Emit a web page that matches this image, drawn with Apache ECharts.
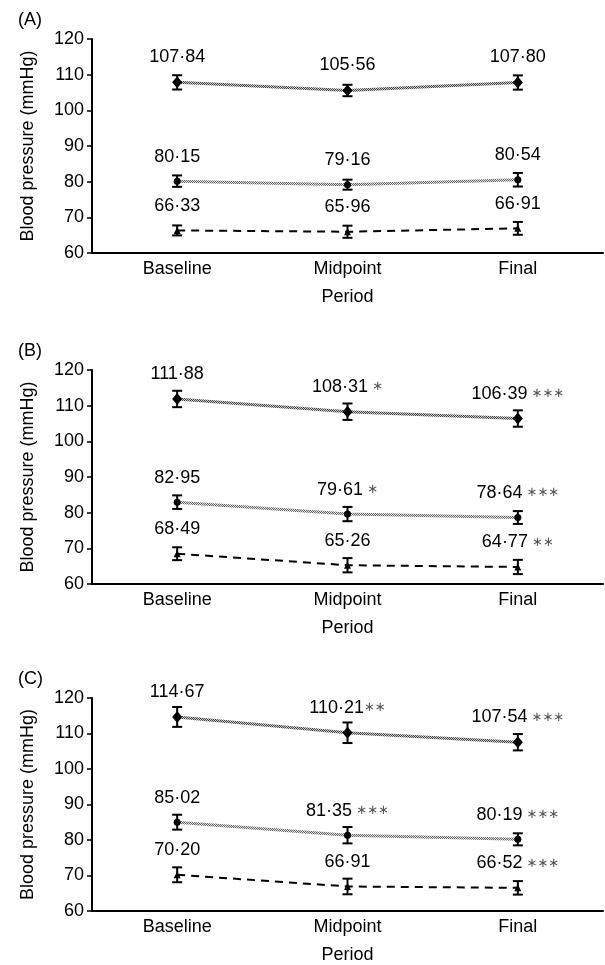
<!DOCTYPE html>
<html>
<head>
<meta charset="utf-8">
<script src="https://cdn.jsdelivr.net/npm/echarts@6/dist/echarts.min.js"></script>
<style>
  html, body { margin: 0; padding: 0; background: #fff; }
  #chart { width: 605px; height: 965px; }
</style>
</head>
<body>
<div id="chart"></div>
<script>
var periods = ['Baseline', 'Midpoint', 'Final'];
var yTicks = [60, 70, 80, 90, 100, 110, 120];
var panelNames = ['(A)', '(B)', '(C)'];

// (A)
var sysA = [107.84, 105.56, 107.80];
var sysErrA = [2.0, 1.6, 2.0];
var sysStarA = ['', '', ''];
var mapA = [80.15, 79.16, 80.54];
var mapErrA = [1.6, 1.4, 1.9];
var mapStarA = ['', '', ''];
var diaA = [66.33, 65.96, 66.91];
var diaErrA = [1.4, 1.7, 1.8];
var diaStarA = ['', '', ''];

// (B)
var sysB = [111.88, 108.31, 106.39];
var sysErrB = [2.3, 2.3, 2.3];
var sysStarB = ['', ' *', ' ***'];
var mapB = [82.95, 79.61, 78.64];
var mapErrB = [1.9, 2.0, 1.8];
var mapStarB = ['', ' *', ' ***'];
var diaB = [68.49, 65.26, 64.77];
var diaErrB = [1.8, 2.0, 2.0];
var diaStarB = ['', '', ' **'];

// (C)
var sysC = [114.67, 110.21, 107.54];
var sysErrC = [2.8, 2.9, 2.3];
var sysStarC = ['', '**', ' ***'];
var mapC = [85.02, 81.35, 80.19];
var mapErrC = [2.1, 2.3, 1.7];
var mapStarC = ['', ' ***', ' ***'];
var diaC = [70.20, 66.91, 66.52];
var diaErrC = [2.1, 2.2, 1.9];
var diaStarC = ['', '', ' ***'];

var panels = [
  {sys: sysA, sysErr: sysErrA, sysStar: sysStarA, map: mapA, mapErr: mapErrA, mapStar: mapStarA, dia: diaA, diaErr: diaErrA, diaStar: diaStarA},
  {sys: sysB, sysErr: sysErrB, sysStar: sysStarB, map: mapB, mapErr: mapErrB, mapStar: mapStarB, dia: diaB, diaErr: diaErrB, diaStar: diaStarB},
  {sys: sysC, sysErr: sysErrC, sysStar: sysStarC, map: mapC, mapErr: mapErrC, mapStar: mapStarC, dia: diaC, diaErr: diaErrC, diaStar: diaStarC}
];

var gridTops = [39, 370, 698];
var gridH = 214;
var FONT = 'Liberation Sans';

// halftone-like stroke patterns
function makePattern(a, b) {
  var c = document.createElement('canvas');
  c.width = 2; c.height = 2;
  var ctx = c.getContext('2d');
  ctx.fillStyle = b; ctx.fillRect(0, 0, 2, 2);
  ctx.fillStyle = a; ctx.fillRect(0, 0, 1, 1); ctx.fillRect(1, 1, 1, 1);
  return c;
}
var sysPat = {image: makePattern('#444', '#c8c8c8'), repeat: 'repeat'};
var mapPat = {image: makePattern('#666', '#ddd'), repeat: 'repeat'};

function fmt(v) { return v.toFixed(2).replace('.', '\u00b7'); }

// stars drawn as asterisk operators
function starText(s) {
  return s.replace(/\*/g, '\u2217');
}

function errorSeries(idx, vals, errs) {
  return {
    type: 'custom',
    xAxisIndex: idx, yAxisIndex: idx,
    data: vals.map(function (v, i) { return [i, v - errs[i], v + errs[i]]; }),
    renderItem: function (params, api) {
      var lo = api.coord([api.value(0), api.value(1)]);
      var hi = api.coord([api.value(0), api.value(2)]);
      var w = 5;
      var st = {stroke: '#000', lineWidth: 2};
      return {type: 'group', children: [
        {type: 'line', shape: {x1: lo[0], y1: lo[1], x2: hi[0], y2: hi[1]}, style: st},
        {type: 'line', shape: {x1: lo[0] - w, y1: lo[1], x2: lo[0] + w, y2: lo[1]}, style: st},
        {type: 'line', shape: {x1: hi[0] - w, y1: hi[1], x2: hi[0] + w, y2: hi[1]}, style: st}
      ]};
    },
    z: 3,
    silent: true
  };
}

function lineSeries(idx, vals, stars, lineStyle, symbol, size, dist) {
  return {
    type: 'line',
    xAxisIndex: idx, yAxisIndex: idx,
    data: vals,
    symbol: symbol,
    symbolSize: size,
    itemStyle: {color: '#000'},
    lineStyle: lineStyle,
    z: 4,
    label: {
      show: true,
      position: 'top',
      distance: dist,
      formatter: function (p) {
        var s = stars[p.dataIndex];
        return fmt(p.value) + (s ? '{s|' + starText(s) + '}' : '');
      },
      color: '#000',
      fontFamily: FONT,
      fontSize: 18,
      rich: {s: {color: '#555', fontSize: 13, fontFamily: 'DejaVu Sans'}}
    }
  };
}

var grids = [], xAxes = [], yAxes = [], series = [], titles = [];
panels.forEach(function (p, i) {
  grids.push({left: 92, right: 2, top: gridTops[i], height: gridH});
  titles.push({text: panelNames[i], left: 13, top: gridTops[i] - 33,
    textStyle: {fontFamily: FONT, fontSize: 18, fontWeight: 'normal', color: '#000'}});
  xAxes.push({
    type: 'category', gridIndex: i, data: periods, boundaryGap: true,
    name: 'Period', nameLocation: 'middle', nameGap: 35,
    nameTextStyle: {fontFamily: FONT, fontSize: 18, color: '#000'},
    axisLine: {lineStyle: {color: '#000', width: 2}},
    axisTick: {inside: true, length: 5, lineStyle: {color: '#000', width: 1.5}},
    axisLabel: {fontFamily: FONT, fontSize: 18, color: '#000', margin: 7}
  });
  yAxes.push({
    type: 'value', gridIndex: i, min: yTicks[0], max: yTicks[yTicks.length - 1], interval: 10,
    name: 'Blood pressure (mmHg)', nameLocation: 'middle', nameGap: 55,
    nameTextStyle: {fontFamily: FONT, fontSize: 18, color: '#000'},
    axisLine: {show: true, lineStyle: {color: '#000', width: 2}},
    axisTick: {show: true, length: 5, lineStyle: {color: '#000', width: 1.5}},
    axisLabel: {fontFamily: FONT, fontSize: 18, color: '#000', margin: 8},
    splitLine: {show: false}
  });
  series.push(lineSeries(i, p.sys, p.sysStar, {color: sysPat, width: 3}, 'diamond', [10, 12], 10));
  series.push(lineSeries(i, p.map, p.mapStar, {color: mapPat, width: 3}, 'circle', 7, 12));
  series.push(lineSeries(i, p.dia, p.diaStar, {color: '#000', width: 2, type: [8, 6]}, 'triangle', 7, 12));
  series.push(errorSeries(i, p.sys, p.sysErr));
  series.push(errorSeries(i, p.map, p.mapErr));
  series.push(errorSeries(i, p.dia, p.diaErr));
});

var chart = echarts.init(document.getElementById('chart'), null, {renderer: 'canvas'});
chart.setOption({
  animation: false,
  backgroundColor: '#fff',
  title: titles,
  grid: grids,
  xAxis: xAxes,
  yAxis: yAxes,
  series: series
});
</script>
</body>
</html>
